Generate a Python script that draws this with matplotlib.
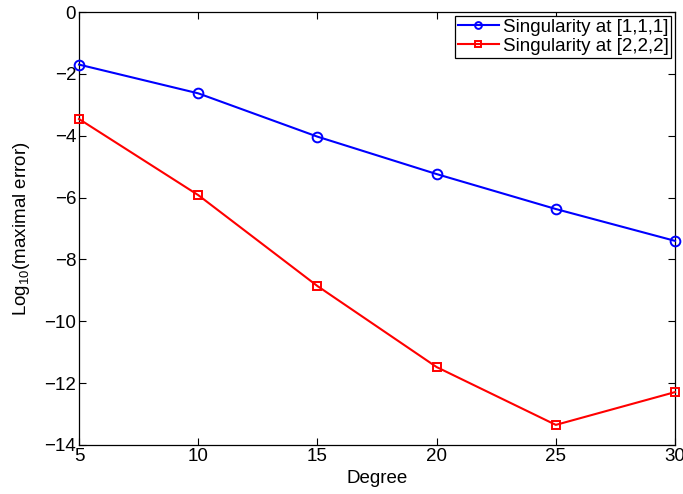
import numpy as np
import matplotlib
matplotlib.use('Agg')
import matplotlib.pyplot as plt

plt.rcParams['font.family'] = ['Liberation Sans', 'DejaVu Sans']
plt.rcParams['mathtext.fontset'] = 'custom'
plt.rcParams['mathtext.rm'] = 'Liberation Sans'
plt.rcParams['mathtext.it'] = 'Liberation Sans'

degree = [5, 10, 15, 20, 25, 30]
err_111 = [-1.70, -2.63, -4.03, -5.24, -6.37, -7.40]
err_222 = [-3.46, -5.92, -8.86, -11.48, -13.35, -12.29]

fs = 13.5

fig = plt.figure(figsize=(6.83, 4.94), dpi=100)
ax = fig.add_axes([0.1157, 0.0992, 0.8726, 0.8765])

ax.plot(degree, err_111, '-o', color='#0000ff', lw=1.5, ms=7, mfc='none', mew=1.4,
        label='Singularity at [1,1,1]', clip_on=False, zorder=3)
ax.plot(degree, err_222, '-s', color='#ff0000', lw=1.5, ms=5.5, mfc='none', mew=1.4,
        label='Singularity at [2,2,2]', clip_on=False, zorder=3)

ax.set_xlim(5, 30)
ax.set_ylim(-14, 0)
ax.set_xticks(degree)
ax.set_yticks(np.arange(-14, 1, 2))
ax.tick_params(direction='in', top=True, right=True, labelsize=fs, length=5, width=0.8, pad=2)
for s in ax.spines.values():
    s.set_linewidth(0.9)

ax.set_xlabel('Degree', fontsize=fs, labelpad=4)
ax.set_ylabel('Log$_{10}$(maximal error)', fontsize=fs, labelpad=9)

leg = ax.legend(loc='upper right', fontsize=fs, fancybox=False, framealpha=1,
                edgecolor='black', borderpad=0.15, handlelength=2.2, handletextpad=0.2,
                labelspacing=0.1, borderaxespad=0.2, markerscale=0.7)
leg.get_frame().set_linewidth(0.9)

fig.savefig('out.png', dpi=100)
